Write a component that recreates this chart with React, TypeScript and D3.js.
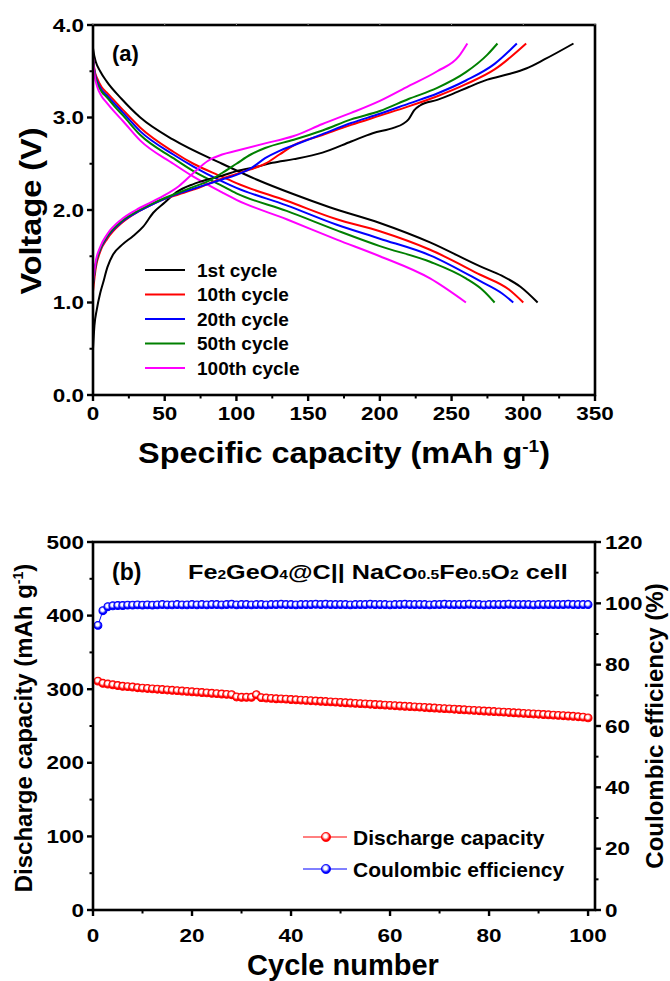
import React from 'react';
import * as d3 from 'd3';

// ---------- panel (a): galvanostatic profiles, [capacity mAh/g, voltage V] ----------
const cycleNames = ['1st cycle', '10th cycle', '20th cycle', '50th cycle', '100th cycle'];
const cycleColors = ['#000000', '#ff0000', '#0000ff', '#008000', '#ff00ff'];

const discharge1st: [number, number][] = [
  [0, 3.75], [1, 3.66], [2, 3.6], [5, 3.5], [9.5, 3.39], [20, 3.2], [33, 3.0], [56, 2.76],
  [90, 2.5], [114, 2.33], [140, 2.17], [165, 2.03], [200, 1.86], [235, 1.65], [270, 1.39],
  [285, 1.29], [298, 1.17], [310, 1.0],
];
const discharge10th: [number, number][] = [
  [0, 3.65], [1, 3.52], [3, 3.42], [6, 3.33], [9.5, 3.27], [15, 3.18], [21, 3.08], [33, 2.89],
  [56, 2.63], [70, 2.5], [90, 2.36], [100, 2.29], [135, 2.1], [170, 1.9], [200, 1.77],
  [235, 1.57], [270, 1.3], [290, 1.14], [300, 1.0],
];
const discharge20th: [number, number][] = [
  [0, 3.65], [1, 3.5], [3, 3.39], [6, 3.3], [9.5, 3.24], [15, 3.15], [21, 3.05], [33, 2.85],
  [56, 2.6], [70, 2.47], [90, 2.31], [100, 2.24], [135, 2.05], [170, 1.84], [200, 1.69],
  [235, 1.51], [270, 1.23], [285, 1.1], [293, 1.0],
];
const discharge50th: [number, number][] = [
  [0, 3.65], [1, 3.49], [3, 3.37], [6, 3.28], [9.5, 3.22], [15, 3.12], [21, 3.02], [33, 2.81],
  [56, 2.56], [70, 2.42], [90, 2.26], [100, 2.18], [135, 1.99], [170, 1.78], [200, 1.61],
  [235, 1.44], [260, 1.26], [272, 1.13], [280, 1.0],
];
const discharge100th: [number, number][] = [
  [0, 3.65], [1, 3.47], [3, 3.33], [6, 3.23], [9.5, 3.16], [15, 3.06], [21, 2.96], [33, 2.75],
  [56, 2.5], [70, 2.36], [90, 2.19], [100, 2.11], [135, 1.9], [170, 1.68], [200, 1.5],
  [235, 1.26], [260, 1.0],
];

const charge1st: [number, number][] = [
  [0, 0.5], [1, 0.75], [2.6, 0.92], [5, 1.1], [7, 1.21], [10, 1.38], [14, 1.52], [20, 1.62],
  [28, 1.72], [35, 1.82], [42, 1.97], [50, 2.08], [58, 2.19], [70, 2.28], [80, 2.33], [90, 2.37],
  [100, 2.42], [115, 2.47], [125, 2.51], [140, 2.55], [160, 2.62], [180, 2.74], [195, 2.83],
  [210, 2.89], [216, 2.93], [220, 2.98], [224, 3.08], [228, 3.13], [240, 3.19], [250, 3.25],
  [262, 3.33], [275, 3.41], [290, 3.47], [302, 3.53], [315, 3.63], [335, 3.8],
];
const charge10th: [number, number][] = [
  [0, 1.12], [2, 1.38], [5, 1.55], [10, 1.69], [20, 1.86], [30, 1.97], [40, 2.05], [50, 2.12],
  [60, 2.17], [70, 2.22], [80, 2.28], [90, 2.34], [100, 2.39], [110, 2.44], [120, 2.5],
  [130, 2.6], [140, 2.7], [160, 2.81], [180, 2.92], [200, 3.02], [220, 3.12], [240, 3.23],
  [260, 3.36], [280, 3.52], [302, 3.8],
];
const charge20th: [number, number][] = [
  [0, 1.2], [2, 1.42], [5, 1.57], [10, 1.71], [20, 1.87], [30, 1.97], [40, 2.05], [50, 2.12],
  [60, 2.18], [70, 2.23], [80, 2.28], [90, 2.33], [100, 2.38], [110, 2.45], [120, 2.56],
  [130, 2.64], [140, 2.7], [160, 2.82], [180, 2.94], [200, 3.04], [220, 3.15], [240, 3.26],
  [260, 3.4], [280, 3.58], [295.5, 3.8],
];
const charge50th: [number, number][] = [
  [0, 1.2], [2, 1.42], [5, 1.58], [10, 1.72], [20, 1.88], [30, 1.98], [40, 2.06], [50, 2.13],
  [60, 2.19], [70, 2.25], [80, 2.31], [90, 2.4], [100, 2.5], [110, 2.6], [120, 2.67],
  [140, 2.76], [160, 2.86], [180, 2.98], [200, 3.07], [220, 3.2], [240, 3.32], [260, 3.49],
  [275, 3.68], [282, 3.8],
];
const charge100th: [number, number][] = [
  [0, 1.22], [2, 1.45], [5, 1.6], [10, 1.74], [20, 1.9], [30, 2.0], [40, 2.08], [50, 2.16],
  [60, 2.26], [70, 2.4], [80, 2.53], [90, 2.6], [100, 2.64], [120, 2.72], [140, 2.8],
  [160, 2.93], [180, 3.05], [200, 3.18], [220, 3.34], [240, 3.5], [255, 3.66], [261, 3.8],
];

const dischargeCurves = [discharge1st, discharge10th, discharge20th, discharge50th, discharge100th];
const chargeCurves = [charge1st, charge10th, charge20th, charge50th, charge100th];

const aXTicks = [0, 50, 100, 150, 200, 250, 300, 350];
const aYTicks = [0, 1, 2, 3, 4];

// ---------- panel (b): cycling ----------
const cycleNumber = d3.range(1, 101);
const dischargeCapacity = [
  311, 308, 307, 306, 305, 304, 303.5, 303, 302, 301.5,
  301, 300.5, 300, 299.5, 299, 298.5, 298, 297.5, 297, 296.5,
  296, 295.5, 295, 294.5, 294, 293.5, 293, 292.5, 289.5, 289,
  289, 289, 292.5, 288.5, 288, 287.5, 287, 286.8, 286.5, 286,
  285.6, 285.2, 284.8, 284.4, 284, 283.6, 283.2, 282.8, 282.4, 282,
  281.6, 281.2, 280.8, 280.4, 280, 279.6, 279.2, 278.8, 278.4, 278,
  277.6, 277.2, 276.8, 276.4, 276, 275.6, 275.2, 274.8, 274.4, 274,
  273.6, 273.2, 272.8, 272.4, 272, 271.6, 271.2, 270.8, 270.4, 270,
  269.6, 269.2, 268.8, 268.4, 268, 267.6, 267.2, 266.8, 266.4, 266,
  265.6, 265.2, 264.8, 264.4, 264, 263.6, 263.2, 262.6, 262, 261,
];
const coulombicEfficiency = [
  92.8, 97.6, 98.9, 99.2, 99.3, 99.3, 99.4, 99.4, 99.5, 99.4,
  99.5, 99.4, 99.5, 99.6, 99.5, 99.5, 99.6, 99.5, 99.5, 99.6,
  99.5, 99.6, 99.5, 99.6, 99.6, 99.5, 99.6, 99.7, 99.5, 99.6,
  99.6, 99.5, 99.6, 99.6, 99.5, 99.6, 99.6, 99.7, 99.6, 99.6,
  99.5, 99.6, 99.6, 99.6, 99.7, 99.6, 99.7, 99.6, 99.6, 99.6,
  99.6, 99.5, 99.6, 99.6, 99.6, 99.7, 99.6, 99.6, 99.6, 99.5,
  99.6, 99.6, 99.7, 99.6, 99.6, 99.6, 99.6, 99.5, 99.6, 99.6,
  99.7, 99.6, 99.6, 99.6, 99.6, 99.7, 99.6, 99.6, 99.5, 99.6,
  99.6, 99.6, 99.6, 99.7, 99.6, 99.6, 99.6, 99.6, 99.5, 99.6,
  99.6, 99.6, 99.6, 99.6, 99.6, 99.7, 99.6, 99.6, 99.6, 99.6,
];
const bXTicks = [0, 20, 40, 60, 80, 100];
const bLeftTicks = [0, 100, 200, 300, 400, 500];
const bRightTicks = [0, 20, 40, 60, 80, 100, 120];
const seriesNames = ['Discharge capacity', 'Coulombic efficiency'];
const seriesColors = ['#ff0000', '#0000ff'];

const FONT = '"Liberation Sans", Arial, Helvetica, sans-serif';

// stretched bold label (the numbers in the original are wide)
const Lbl = ({ x, y, anchor, children, size = 18, sx = 1.25 }: any) => (
  <text
    transform={`translate(${x},${y}) scale(${sx},1)`}
    textAnchor={anchor}
    fontSize={size}
    fontWeight="bold"
    fontFamily={FONT}
  >
    {children}
  </text>
);

export default function App() {
  // panel (a) scales
  const ax = d3.scaleLinear().domain([0, 350]).range([93, 595]);
  const ay = d3.scaleLinear().domain([0, 4]).range([395, 25]);
  const aLine = d3
    .line<[number, number]>()
    .x((d) => ax(d[0]))
    .y((d) => ay(d[1]))
    .curve(d3.curveMonotoneX);

  // panel (b) scales
  const bx = d3.scaleLinear().domain([0, 101.4]).range([93, 595]);
  const byL = d3.scaleLinear().domain([0, 500]).range([910, 542]);
  const byR = d3.scaleLinear().domain([0, 120]).range([910, 542]);
  const capLine = d3
    .line<number>()
    .x((d, i) => bx(cycleNumber[i]))
    .y((d) => byL(d));
  const ceLine = d3
    .line<number>()
    .x((d, i) => bx(cycleNumber[i]))
    .y((d) => byR(d));

  const [a0, a1] = ax.range();
  const [ayb, ayt] = ay.range();
  const [b0, b1] = bx.range();
  const [byb, byt] = byL.range();

  return (
    <svg
      width={670}
      height={981}
      style={{ position: 'absolute', left: 0, top: 0, background: '#fff', display: 'block' }}
      fontFamily={FONT}
    >
      <defs>
        {seriesColors.map((c, i) => (
          <radialGradient key={c} id={`ball${i}`} cx="45%" cy="40%" r="60%">
            <stop offset="0%" stopColor="#ffffff" />
            <stop offset="30%" stopColor="#ffffff" />
            <stop offset="75%" stopColor={c} />
            <stop offset="100%" stopColor={c} />
          </radialGradient>
        ))}
      </defs>
      <rect x={0} y={0} width={670} height={981} fill="#fff" />

      {/* ================= panel (a) ================= */}
      {dischargeCurves.map((d, i) => (
        <path key={`d${i}`} d={aLine(d) || ''} fill="none" stroke={cycleColors[i]} strokeWidth={2} />
      ))}
      {chargeCurves.map((d, i) => (
        <path key={`c${i}`} d={aLine(d) || ''} fill="none" stroke={cycleColors[i]} strokeWidth={2} />
      ))}

      <rect x={a0} y={ayt} width={a1 - a0} height={ayb - ayt} fill="none" stroke="#000" strokeWidth={2.6} />
      {aYTicks.map((v) => (
        <line key={`ayt${v}`} x1={a0} x2={a0 - 6} y1={ay(v)} y2={ay(v)} stroke="#000" strokeWidth={2.4} />
      ))}
      {aYTicks.slice(0, -1).map((v) => (
        <line key={`aym${v}`} x1={a0} x2={a0 - 3.5} y1={ay(v + 0.5)} y2={ay(v + 0.5)} stroke="#000" strokeWidth={2} />
      ))}
      {aYTicks.map((v) => (
        <Lbl key={`ayl${v}`} x={84} y={ay(v) + 6.5} anchor="end">
          {v.toFixed(1)}
        </Lbl>
      ))}
      {aXTicks.map((v) => (
        <line key={`axt${v}`} x1={ax(v)} x2={ax(v)} y1={ayb} y2={ayb + 6} stroke="#000" strokeWidth={2.4} />
      ))}
      {aXTicks.slice(0, -1).map((v) => (
        <line key={`axm${v}`} x1={ax(v + 25)} x2={ax(v + 25)} y1={ayb} y2={ayb + 3.5} stroke="#000" strokeWidth={2} />
      ))}
      {aXTicks.map((v) => (
        <line key={`axtop${v}`} x1={ax(v)} x2={ax(v)} y1={ayt} y2={ayt - 2} stroke="#999" strokeWidth={1} />
      ))}
      {aXTicks.map((v) => (
        <Lbl key={`axl${v}`} x={ax(v)} y={420} anchor="middle">
          {v}
        </Lbl>
      ))}
      <text
        transform="translate(41,211) rotate(-90) scale(1.12,1)"
        textAnchor="middle"
        fontSize={29}
        fontWeight="bold"
      >
        Voltage (V)
      </text>
      <text transform="translate(344,463) scale(1.12,1)" textAnchor="middle" fontSize={29} fontWeight="bold">
        Specific capacity (mAh g<tspan dy={-11} fontSize={17}>-1</tspan>
        <tspan dy={11}>)</tspan>
      </text>
      <text x={112} y={61} fontSize={22} fontWeight="bold">
        (a)
      </text>
      {cycleNames.map((n, i) => (
        <g key={n}>
          <line x1={145} x2={185} y1={270 + i * 24.5} y2={270 + i * 24.5} stroke={cycleColors[i]} strokeWidth={2} />
          <text x={197} y={270 + i * 24.5 + 6.5} fontSize={19} fontWeight="bold">
            {n}
          </text>
        </g>
      ))}

      {/* ================= panel (b) ================= */}
      <path d={capLine(dischargeCapacity) || ''} fill="none" stroke={seriesColors[0]} strokeWidth={1} />
      <path d={ceLine(coulombicEfficiency) || ''} fill="none" stroke={seriesColors[1]} strokeWidth={1} />
      {dischargeCapacity.map((v, i) => (
        <circle key={`cp${i}`} cx={bx(cycleNumber[i])} cy={byL(v)} r={3.9} fill="url(#ball0)" stroke={seriesColors[0]} strokeWidth={1.1} />
      ))}
      {coulombicEfficiency.map((v, i) => (
        <circle key={`ce${i}`} cx={bx(cycleNumber[i])} cy={byR(v)} r={3.9} fill="url(#ball1)" stroke={seriesColors[1]} strokeWidth={1.1} />
      ))}

      <rect x={b0} y={byt} width={b1 - b0} height={byb - byt} fill="none" stroke="#000" strokeWidth={2.6} />
      {bLeftTicks.map((v) => (
        <line key={`bl${v}`} x1={b0} x2={b0 - 6} y1={byL(v)} y2={byL(v)} stroke="#000" strokeWidth={2.4} />
      ))}
      {bLeftTicks.slice(0, -1).map((v) => (
        <line key={`blm${v}`} x1={b0} x2={b0 - 3.5} y1={byL(v + 50)} y2={byL(v + 50)} stroke="#000" strokeWidth={2} />
      ))}
      {bLeftTicks.map((v) => (
        <Lbl key={`bll${v}`} x={84} y={byL(v) + 6.5} anchor="end">
          {v}
        </Lbl>
      ))}
      {bRightTicks.map((v) => (
        <line key={`br${v}`} x1={b1} x2={b1 + 6} y1={byR(v)} y2={byR(v)} stroke="#000" strokeWidth={2.4} />
      ))}
      {bRightTicks.slice(0, -1).map((v) => (
        <line key={`brm${v}`} x1={b1} x2={b1 + 3.5} y1={byR(v + 10)} y2={byR(v + 10)} stroke="#000" strokeWidth={2} />
      ))}
      {bRightTicks.map((v) => (
        <Lbl key={`brl${v}`} x={605} y={byR(v) + 6.5} anchor="start">
          {v}
        </Lbl>
      ))}
      {bXTicks.map((v) => (
        <line key={`bx${v}`} x1={bx(v)} x2={bx(v)} y1={byb} y2={byb + 6} stroke="#000" strokeWidth={2.4} />
      ))}
      {bXTicks.slice(0, -1).map((v) => (
        <line key={`bxm${v}`} x1={bx(v + 10)} x2={bx(v + 10)} y1={byb} y2={byb + 3.5} stroke="#000" strokeWidth={2} />
      ))}
      {bXTicks.map((v) => (
        <Lbl key={`bxl${v}`} x={bx(v)} y={942} anchor="middle">
          {v}
        </Lbl>
      ))}
      <text x={343} y={975} textAnchor="middle" fontSize={29} fontWeight="bold">
        Cycle number
      </text>
      <text transform="translate(32,728) rotate(-90)" textAnchor="middle" fontSize={24} fontWeight="bold">
        Discharge capacity (mAh g<tspan dy={-9} fontSize={14}>-1</tspan>
        <tspan dy={9}>)</tspan>
      </text>
      <text transform="translate(663,726) rotate(-90)" textAnchor="middle" fontSize={24} fontWeight="bold">
        Coulombic efficiency (%)
      </text>
      <text x={112} y={580} fontSize={23} fontWeight="bold">
        (b)
      </text>
      <text transform="translate(188,579) scale(1.2,1)" fontSize={21} fontWeight="bold">
        Fe<tspan fontSize={13}>2</tspan>GeO<tspan fontSize={13}>4</tspan>@C|| NaCo
        <tspan fontSize={13}>0.5</tspan>Fe<tspan fontSize={13}>0.5</tspan>O<tspan fontSize={13}>2</tspan> cell
      </text>
      {seriesNames.map((n, i) => (
        <g key={n}>
          <line x1={303} x2={347} y1={837 + i * 32} y2={837 + i * 32} stroke={seriesColors[i]} strokeWidth={1} />
          <circle cx={326} cy={837 + i * 32} r={4.6} fill={`url(#ball${i})`} stroke={seriesColors[i]} strokeWidth={0.8} />
          <text x={353} y={837 + i * 32 + 7.5} fontSize={21} fontWeight="bold">
            {n}
          </text>
        </g>
      ))}
    </svg>
  );
}
